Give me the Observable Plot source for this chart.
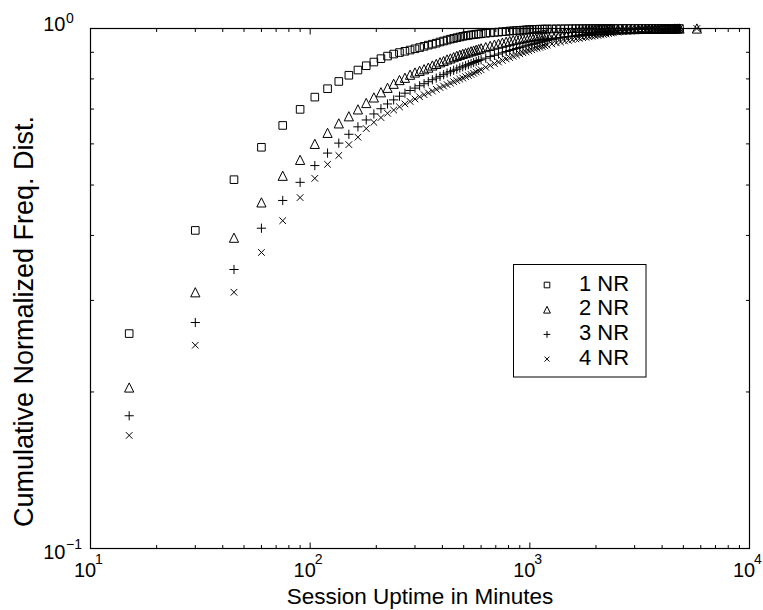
<!DOCTYPE html>
<html><head><meta charset="utf-8">
<script src="https://cdn.jsdelivr.net/npm/d3@7"></script>
<script src="https://cdn.jsdelivr.net/npm/@observablehq/plot@0.6"></script>
<style>html,body{margin:0;padding:0;background:#fff;} #chart{width:763px;height:610px;}</style>
</head><body><div id="chart"></div><script>
// ---- data ----
const uptime = [15,30,45,60,75,90,105,120,135,150,165,180,195,210,225,240,255,270,285,300,
315,330,345,360,375,390,405,420,435,450,465,480,495,510,525,540,555,570,585,600,
630,660,690,720,750,780,810,840,870,900,930,960,990,1020,1050,1080,1110,1140,1170,1200,
1260,1320,1380,1440,1500,1560,1620,1680,1740,1800,1860,1920,1980,2040,2100,2160,2220,2280,2340,2400,
2520,2640,2760,2880,3000,3120,3240,3360,3480,3600,3720,3840,3960,4080,4200,4320,4440,4560,4680,4800,
5760];
const nr1 = [.259,.409,.512,.591,.651,.699,.738,.766,.791,.813,.832,.848,.862,.875,.885,.893,.899,.904,.909,.914,
.919,.924,.929,.933,.937,.942,.946,.950,.954,.957,.960,.963,.966,.968,.970,.972,.973,.975,.976,.977,
.979,.981,.983,.984,.986,.987,.989,.990,.991,.992,.993,.994,.995,.9955,.996,.9965,.997,.9972,.9975,.9978,
.998,.9983,.9985,.9987,.9988,.999,.9991,.9992,.9993,.9994,.9995,.9995,.9996,.9996,.9997,.9997,.9997,.9998,.9998,.9998,
.9998,.9998,.9999,.9999,.9999,.9999,.9999,.9999,1,1,1,1,1,1,1,1,1,1,1,1,
null];
const nr2 = [.204,.311,.396,.463,.521,.559,.600,.630,.657,.678,.699,.719,.737,.754,.769,.783,.796,.804,.815,.823,
.829,.835,.841,.849,.855,.861,.866,.872,.876,.881,.886,.890,.894,.897,.900,.904,.907,.910,.913,.916,
.921,.926,.931,.935,.939,.943,.946,.950,.953,.956,.958,.961,.963,.965,.967,.969,.970,.972,.973,.975,
.977,.979,.981,.983,.985,.986,.987,.988,.989,.990,.991,.9915,.992,.993,.9935,.994,.9945,.995,.9955,.996,
.9965,.997,.9972,.9975,.9977,.998,.9982,.9984,.9986,.9988,.999,.9991,.9992,.9993,.9994,.9995,.9996,.9997,.9998,.9999,
1];
const nr3 = [.180,.272,.344,.413,.467,.506,.545,.576,.602,.626,.647,.667,.685,.701,.716,.729,.741,.751,.760,.768,
.776,.783,.790,.797,.803,.809,.815,.821,.826,.831,.835,.840,.844,.848,.852,.856,.860,.864,.868,.871,
.877,.883,.888,.893,.898,.903,.907,.911,.915,.919,.922,.926,.929,.932,.935,.938,.941,.943,.946,.948,
.952,.955,.959,.962,.965,.967,.970,.972,.974,.976,.978,.980,.981,.983,.984,.985,.986,.987,.988,.989,
.991,.992,.993,.994,.995,.9955,.996,.9965,.997,.9975,.998,.9983,.9986,.9989,.9992,.9994,.9996,.9998,.9999,1,
null];
const nr4 = [.165,.246,.311,.371,.427,.473,.515,.548,.570,.598,.618,.642,.660,.674,.687,.697,.707,.716,.724,.732,
.739,.746,.752,.758,.764,.770,.775,.780,.785,.790,.794,.799,.803,.808,.812,.816,.820,.825,.829,.833,
.842,.849,.856,.862,.868,.874,.879,.884,.889,.894,.898,.902,.906,.910,.914,.917,.920,.923,.926,.929,
.934,.938,.942,.946,.949,.952,.955,.957,.960,.962,.964,.966,.968,.970,.972,.974,.976,.978,.980,.981,
.984,.986,.988,.989,.991,.992,.993,.994,.995,.996,.9965,.997,.9975,.998,.9985,.999,.9993,.9996,.9998,1,
1];
const seriesNames = ["1 NR","2 NR","3 NR","4 NR"];
const xMajorTicks = [10,100,1000,10000];
const xTickExponents = ["1","2","3","4"];
const xMinorTicks = [20,30,40,50,60,70,80,90,200,300,400,500,600,700,800,900,2000,3000,4000,5000,6000,7000,8000,9000];
const yMajorTicks = [0.1,1];
const yTickExponents = ["\u22121","0"];
const yMinorTicks = [0.2,0.3,0.4,0.5,0.6,0.7,0.8,0.9];
const xLabel = "Session Uptime in Minutes";
const yLabel = "Cumulative Normalized Freq. Dist.";

// ---- table ----
const seriesValues = [nr1,nr2,nr3,nr4];
const rows = [];
seriesNames.forEach((name,k) => uptime.forEach((u,i) => {
  const v = seriesValues[k][i];
  if (v != null) rows.push({series:name, uptime:u, value:v});
}));

// ---- symbols ----
const R = s => Math.sqrt(s/Math.PI);
const symSquare = {draw(c,s){const r=R(s);c.moveTo(-r,-r);c.lineTo(r,-r);c.lineTo(r,r);c.lineTo(-r,r);c.closePath();}};
const symTri = {draw(c,s){const r=R(s);c.moveTo(0,-r);c.lineTo(r,r);c.lineTo(-r,r);c.closePath();}};
const symPlus = {draw(c,s){const r=R(s);c.moveTo(-r,0);c.lineTo(r,0);c.moveTo(0,-r);c.lineTo(0,r);}};
const symTimes = {draw(c,s){const r=R(s);c.moveTo(-r,-r);c.lineTo(r,r);c.moveTo(-r,r);c.lineTo(r,-r);}};
const tickUp = {draw(c,s){c.moveTo(0,0);c.lineTo(0,-R(s));}};
const tickDown = {draw(c,s){c.moveTo(0,0);c.lineTo(0,R(s));}};
const tickRight = {draw(c,s){c.moveTo(0,0);c.lineTo(R(s),0);}};
const tickLeft = {draw(c,s){c.moveTo(0,0);c.lineTo(-R(s),0);}};
const markerSym = [symSquare, symTri, symPlus, symTimes];
const markerR = [3.8, 4.6, 4.6, 3.3];
const legendR = [2.8, 3.4, 3.4, 2.5];

const tickStyle = {stroke:"black", fill:"none", strokeWidth:1};
const font = "'Liberation Sans', Arial, Helvetica, sans-serif";

const chart = Plot.plot({
  width: 763, height: 610,
  marginTop: 28, marginRight: 14, marginBottom: 62, marginLeft: 90,
  x: {type:"log", domain:[10,10000], axis:null},
  y: {type:"log", domain:[0.1,1], axis:null},
  style: {fontFamily: font, background:"white", color:"black", overflow:"visible"},
  marks: [
    // ticks (inward, both sides)
    Plot.dot(xMajorTicks, {x:d=>d, frameAnchor:"bottom", symbol:tickUp, r:6, ...tickStyle}),
    Plot.dot(xMajorTicks, {x:d=>d, frameAnchor:"top", symbol:tickDown, r:6, ...tickStyle}),
    Plot.dot(xMinorTicks, {x:d=>d, frameAnchor:"bottom", symbol:tickUp, r:3.5, ...tickStyle}),
    Plot.dot(xMinorTicks, {x:d=>d, frameAnchor:"top", symbol:tickDown, r:3.5, ...tickStyle}),
    Plot.dot(yMinorTicks, {y:d=>d, frameAnchor:"left", symbol:tickRight, r:3.5, ...tickStyle}),
    Plot.dot(yMinorTicks, {y:d=>d, frameAnchor:"right", symbol:tickLeft, r:3.5, ...tickStyle}),
    // data
    seriesNames.map((name,k) => Plot.dot(rows.filter(d => d.series === name), {
      x:"uptime", y:"value", symbol: markerSym[k], r: markerR[k],
      stroke:"black", fill:"none", strokeWidth:1
    })),
    Plot.frame({stroke:"black", strokeWidth:1.2}),
    // x tick labels
    Plot.text(xMajorTicks, {x:d=>d, frameAnchor:"bottom", text:()=>"10", textAnchor:"middle", lineAnchor:"bottom", dx:-5.5, dy:28, fontSize:20, fill:"black"}),
    Plot.text(xMajorTicks, {x:d=>d, frameAnchor:"bottom", text:(d,i)=>xTickExponents[i], textAnchor:"start", lineAnchor:"bottom", dx:4.5, dy:15.5, fontSize:14, fill:"black"}),
    // y tick labels
    yMajorTicks.map((t,i) => [
      Plot.text([t], {y:d=>d, frameAnchor:"left", text:()=>"10", textAnchor:"end", lineAnchor:"bottom", dx:-25, dy: i===0 ? 10 : 2, fontSize:20, fill:"black"}),
      Plot.text([t], {y:d=>d, frameAnchor:"left", text:()=>yTickExponents[i], textAnchor:"start", lineAnchor:"bottom", dx:-24.5, dy: i===0 ? 0 : -5.5, fontSize:14, fill:"black"})
    ]),
    // axis titles
    Plot.text([xLabel], {frameAnchor:"bottom", text:d=>d, textAnchor:"middle", lineAnchor:"bottom", dy:55, fontSize:22.5, fill:"black"}),
    Plot.text([yLabel], {frameAnchor:"left", text:d=>d, rotate:-90, textAnchor:"middle", lineAnchor:"bottom", dx:-58, dy:33, fontSize:27, fill:"black"})
  ]
});
document.getElementById("chart").appendChild(chart);

// ---- legend box ----
const svg = d3.select(chart);
const lg = svg.append("g").attr("font-family", font).attr("text-anchor","start");
lg.append("rect").attr("x",513.5).attr("y",264.5).attr("width",132.5).attr("height",112.5)
  .attr("fill","white").attr("stroke","black").attr("stroke-width",1);
seriesNames.forEach((name,k) => {
  const cy = 285 + k*24.7;
  lg.append("path")
    .attr("transform", `translate(547,${cy})`)
    .attr("d", d3.symbol().type(markerSym[k]).size(Math.PI*legendR[k]*legendR[k])())
    .attr("fill","none").attr("stroke","black").attr("stroke-width",1);
  lg.append("text").attr("x",579).attr("y",cy+5.5).attr("font-size",22)
    .attr("text-anchor","start").attr("fill","black").text(name);
});
</script></body></html>
